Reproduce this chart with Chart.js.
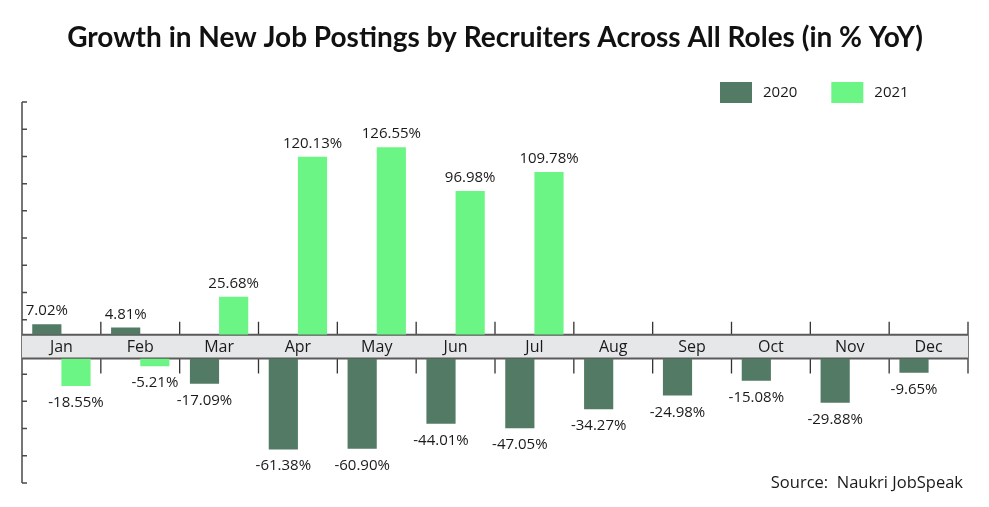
<!DOCTYPE html>
<html>
<head>
<meta charset="utf-8">
<script src="https://cdn.jsdelivr.net/npm/chart.js@4.4.0/dist/chart.umd.min.js"></script>
<style>
  html, body { margin: 0; padding: 0; background: #fff; }
</style>
</head>
<body>
<canvas id="chartBar" width="989" height="507"></canvas>
<script>
const months = ["Jan", "Feb", "Mar", "Apr", "May", "Jun", "Jul", "Aug", "Sep", "Oct", "Nov", "Dec"];
const growth2020 = [7.02, 4.81, -17.09, -61.38, -60.9, -44.01, -47.05, -34.27, -24.98, -15.08, -29.88, -9.65];
const growth2021 = [-18.55, -5.21, 25.68, 120.13, 126.55, 96.98, 109.78, null, null, null, null, null];
const seriesNames = ["2020", "2021"];
const seriesColors = ["#527a64", "#6bf584"];
const titleText = "Growth in New Job Postings by Recruiters Across All Roles (in % YoY)";
const sourceText = "Source:  Naukri JobSpeak";

// value range of the upper and lower panels, and the gap for the month band
const topMax = 157;
const bottomMin = -84;
const bandWeight = 16;
const yTickCount = 14;

const onlyPositive = values => values.map(v => (v !== null && v >= 0 ? v : null));
const onlyNegative = values => values.map(v => (v !== null && v < 0 ? v : null));

const labelFont = '15px "Open Sans"';

const decorPlugin = {
  id: "decor",
  beforeDatasetsDraw(chart) {
    const { ctx, chartArea, scales } = chart;
    const { x, yBand } = scales;
    const { left, right, top, bottom } = chartArea;
    ctx.save();

    // left axis line with small inward ticks
    ctx.strokeStyle = "#4a4a4a";
    ctx.lineWidth = 1.5;
    ctx.beginPath();
    ctx.moveTo(left, top);
    ctx.lineTo(left, bottom);
    const step = (bottom - top) / yTickCount;
    for (let i = 0; i <= yTickCount; i++) {
      ctx.moveTo(left, top + i * step);
      ctx.lineTo(left + 5, top + i * step);
    }
    ctx.stroke();

    // category boundary marks
    const half = (x.getPixelForValue(1) - x.getPixelForValue(0)) / 2;
    ctx.strokeStyle = "#333";
    ctx.lineWidth = 1.3;
    ctx.beginPath();
    months.forEach((m, i) => {
      const bx = x.getPixelForValue(i) + half;
      ctx.moveTo(bx, yBand.top - 13);
      ctx.lineTo(bx, yBand.bottom + 15);
    });
    ctx.stroke();

    // month band
    ctx.fillStyle = "#e6e7e8";
    ctx.fillRect(left, yBand.top, right - left, yBand.bottom - yBand.top);
    ctx.strokeStyle = "#5a5a5a";
    ctx.lineWidth = 2;
    ctx.beginPath();
    ctx.moveTo(left, yBand.top);
    ctx.lineTo(right, yBand.top);
    ctx.moveTo(left, yBand.bottom);
    ctx.lineTo(right, yBand.bottom);
    ctx.stroke();

    ctx.fillStyle = "#1a1a1a";
    ctx.font = '16px "Open Sans"';
    ctx.textAlign = "center";
    ctx.textBaseline = "middle";
    months.forEach((m, i) => {
      ctx.fillText(m, x.getPixelForValue(i), (yBand.top + yBand.bottom) / 2 + 1);
    });
    ctx.restore();
  },
  afterDatasetsDraw(chart) {
    const { ctx } = chart;
    ctx.save();
    ctx.fillStyle = "#1a1a1a";
    ctx.font = labelFont;
    ctx.textAlign = "center";
    ctx.textBaseline = "alphabetic";
    chart.data.datasets.forEach((ds, di) => {
      const meta = chart.getDatasetMeta(di);
      meta.data.forEach((bar, i) => {
        const v = ds.data[i];
        if (v === null) return;
        const y = v >= 0 ? bar.y - 9 : bar.y + 21;
        ctx.fillText(`${v.toFixed(2)}%`, bar.x, y);
      });
    });
    ctx.restore();
  },
  afterDraw(chart) {
    const { ctx, chartArea } = chart;
    ctx.save();
    ctx.font = labelFont;
    ctx.textBaseline = "middle";
    ctx.textAlign = "left";
    ctx.fillStyle = "#1a1a1a";

    // legend
    let lx = 720;
    const ly = 82;
    seriesNames.forEach((name, i) => {
      ctx.fillStyle = seriesColors[i];
      ctx.fillRect(lx, ly, 32, 21);
      ctx.fillStyle = "#1a1a1a";
      ctx.fillText(name, lx + 43, ly + 11);
      lx += 43 + ctx.measureText(name).width + 34;
    });

    // source note
    ctx.font = '16.5px "Open Sans"';
    ctx.textAlign = "right";
    ctx.fillText(sourceText, chartArea.right - 5, chartArea.bottom);
    ctx.restore();
  },
};

const chart = new Chart(document.getElementById("chartBar").getContext("2d"), {
  type: "bar",
  data: {
    labels: months,
    datasets: [
      { label: seriesNames[0], data: onlyPositive(growth2020), backgroundColor: seriesColors[0], stack: "s2020", yAxisID: "yUp" },
      { label: seriesNames[1], data: onlyPositive(growth2021), backgroundColor: seriesColors[1], stack: "s2021", yAxisID: "yUp" },
      { label: seriesNames[0], data: onlyNegative(growth2020), backgroundColor: seriesColors[0], stack: "s2020", yAxisID: "yDown" },
      { label: seriesNames[1], data: onlyNegative(growth2021), backgroundColor: seriesColors[1], stack: "s2021", yAxisID: "yDown" },
    ],
  },
  options: {
    responsive: false,
    animation: false,
    categoryPercentage: 0.74,
    barPercentage: 1,
    layout: { padding: { left: 22, right: 21, bottom: 24, top: 0 } },
    scales: {
      x: { type: "category", display: false, offset: true, grid: { display: false } },
      yUp: { type: "linear", display: false, stacked: false, stack: "panels", stackWeight: topMax, weight: 3, min: 0, max: topMax },
      yBand: { type: "linear", display: false, stacked: false, stack: "panels", stackWeight: bandWeight, weight: 2, min: 0, max: 1 },
      yDown: { type: "linear", display: false, stacked: false, stack: "panels", stackWeight: -bottomMin, weight: 1, min: bottomMin, max: 0 },
    },
    plugins: {
      legend: { display: false },
      title: {
        display: true,
        text: titleText,
        color: "#111",
        font: { family: "Lato", weight: "bold", size: 28, lineHeight: 1.2 },
        padding: { top: 21, bottom: 47.4 },
      },
    },
  },
  plugins: [decorPlugin],
});
</script>
</body>
</html>
